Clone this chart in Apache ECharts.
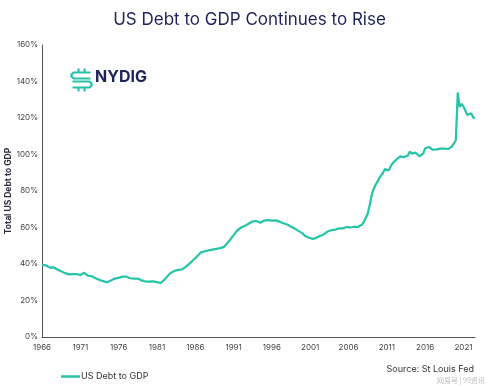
<!DOCTYPE html>
<html><head><meta charset="utf-8">
<script src="https://cdn.jsdelivr.net/npm/echarts@6/dist/echarts.min.js"></script>
<style>html,body{margin:0;padding:0;background:#fff}#c{width:499px;height:389px}</style>
</head><body><div id="c"></div>
<script>
var startYear = 1966;
var quarterValues = [
 39.5, 39.0, 39.3, 38.5,
 38.0, 38.8, 38.2, 37.5,
 37.0, 36.4, 36.0, 35.5,
 35.0, 34.6, 34.3, 34.8,
 34.4, 35.0, 34.5, 35.1,
 34.0, 34.6, 35.2, 34.4,
 33.6, 33.0, 33.3, 32.6,
 32.2, 31.8, 31.2, 31.0,
 30.6, 30.3, 30.0, 30.2,
 31.0, 31.6, 32.0, 32.3,
 32.4, 32.8, 33.1, 33.0,
 33.1, 32.6, 32.2, 32.6,
 32.0, 31.6, 32.0, 31.6,
 31.0, 30.6, 30.4, 30.2,
 30.3, 30.8, 30.5, 30.6,
 30.1, 29.9, 29.6, 30.5,
 31.5, 32.3, 33.8, 35.0,
 35.5, 36.2, 36.6, 36.8,
 36.7, 37.0, 37.6, 38.4,
 39.2, 40.2, 41.0, 42.2,
 43.2, 44.2, 45.3, 46.4,
 46.7, 47.0, 47.2, 47.5,
 47.6, 47.9, 48.0, 48.3,
 48.5, 48.7, 49.0, 49.4,
 50.6, 51.8, 53.0, 54.5,
 55.8, 57.2, 58.5, 59.4,
 60.0, 60.6, 61.0, 61.4,
 62.2, 62.8, 63.4, 63.6,
 63.5, 63.0, 62.6, 63.2,
 63.8, 64.2, 64.0, 63.6,
 63.8, 63.4, 63.9, 63.5,
 63.2, 62.6, 62.3, 62.0,
 61.6, 60.8, 60.4, 60.0,
 59.4, 58.7, 58.0, 57.5,
 56.8, 55.6, 55.0, 54.5,
 54.0, 53.8, 53.5, 54.2,
 54.6, 55.3, 55.8, 56.2,
 57.0, 57.8, 58.2, 58.5,
 58.6, 58.8, 59.3, 59.6,
 59.9, 59.5, 59.8, 60.3,
 60.6, 60.0, 60.5, 60.4,
 60.7, 60.3, 60.9, 61.6,
 63.0, 63.8, 67.5, 72.0,
 77.5, 81.0, 83.0, 85.0,
 87.0, 88.5, 90.0, 92.0,
 91.8, 91.2, 93.5, 95.2,
 96.0, 97.3, 98.0, 99.0,
 99.6, 98.6, 98.4, 99.5,
 101.7, 100.5, 100.2, 101.0,
 100.2, 99.0, 98.3, 100.6,
 103.4, 103.8, 104.1, 103.2,
 102.6, 102.2, 102.8, 102.5,
 103.2, 102.6, 103.3, 104.0,
 103.0, 102.8, 104.5, 105.5,
 107.8, 134.0, 126.0, 127.8,
 126.2, 124.0, 121.6, 120.6,
 122.6, 120.4, 119.8
];
var yTicks = [0, 20, 40, 60, 80, 100, 120, 140, 160];
var seriesName = 'US Debt to GDP';
var yAxisTitle = 'Total US Debt to GDP';

var categories = quarterValues.map(function (v, i) {
  return (startYear + Math.floor(i / 4)) + ' Q' + (i % 4 + 1);
});

var chart = echarts.init(document.getElementById('c'), null, {renderer: 'canvas'});
var font = 'Inter, "Noto Sans", sans-serif';
var teal = '#25c3a7';
var navy = '#1d2258';
chart.setOption({
  animation: false,
  textStyle: {fontFamily: font},
  title: {
    text: 'US Debt to GDP Continues to Rise',
    left: 'center', top: 6,
    textStyle: {fontSize: 17, fontWeight: 'normal', color: navy, fontFamily: font}
  },
  grid: {left: 42, right: 24, top: 45, bottom: 52, outerBoundsMode: 'none', containLabel: false},
  legend: {
    left: 56, top: 367,
    icon: 'rect', itemWidth: 19, itemHeight: 2.5, itemGap: 2,
    textStyle: {fontSize: 9, color: '#333', fontFamily: font, padding: [0, 0, 0, -4]},
    data: [seriesName]
  },
  xAxis: {
    type: 'category', boundaryGap: false, data: categories,
    axisLine: {lineStyle: {color: '#555', width: 1}},
    axisTick: {show: false},
    axisLabel: {
      interval: function (i) { return i % 20 === 0; },
      formatter: function (v) { return v.slice(0, 4); },
      fontSize: 8, color: '#444', margin: 7, fontFamily: font
    },
    splitLine: {show: false}
  },
  yAxis: {
    type: 'value', min: yTicks[0], max: yTicks[yTicks.length - 1], interval: 20,
    axisLine: {show: true, lineStyle: {color: '#555', width: 1}},
    axisTick: {show: false},
    axisLabel: {formatter: '{value}%', fontSize: 8, color: '#444', margin: 4, fontFamily: font},
    splitLine: {show: false}
  },
  series: [{
    name: seriesName, type: 'line', data: quarterValues,
    showSymbol: false, symbol: 'none',
    lineStyle: {color: teal, width: 2.2}, itemStyle: {color: teal}
  }],
  graphic: [
    {type: 'text', x: 8, y: 191, rotation: Math.PI / 2,
     style: {text: yAxisTitle, fontSize: 8.5, fontWeight: 'bold', fill: '#2a2a3a', fontFamily: font, align: 'center', verticalAlign: 'middle'}},
    {type: 'text', right: 25, top: 365, style: {text: 'Source: St Louis Fed', fontSize: 9, fill: '#333', fontFamily: font}},
    {type: 'text', left: 437, top: 377, style: {text: '网易号 | 99资讯', fontSize: 7, fill: '#bbb', fontFamily: '"Noto Sans CJK SC"'}},
    {type: 'text', left: 95, top: 69, style: {text: 'NYDIG', fontSize: 16, fontWeight: 'bold', fill: navy, fontFamily: font}},
    {type: 'group', left: 69, top: 66, children: [
      {type: 'line', shape: {x1: 8, y1: 0, x2: 8, y2: 4}, style: {stroke: teal, lineWidth: 2.2}},
      {type: 'line', shape: {x1: 14, y1: 0, x2: 14, y2: 4}, style: {stroke: teal, lineWidth: 2.2}},
      {type: 'polyline', shape: {points: [[20, 4], [3, 4], [1, 6], [1, 8], [3, 10], [20, 10]]}, style: {stroke: teal, lineWidth: 2.2, fill: null}},
      {type: 'polyline', shape: {points: [[2, 13], [19, 13], [21, 15], [21, 17], [19, 19], [2, 19]]}, style: {stroke: teal, lineWidth: 2.2, fill: null}},
      {type: 'line', shape: {x1: 8, y1: 19, x2: 8, y2: 23}, style: {stroke: teal, lineWidth: 2.2}},
      {type: 'line', shape: {x1: 14, y1: 19, x2: 14, y2: 23}, style: {stroke: teal, lineWidth: 2.2}}
    ]}
  ]
});
</script>
</body></html>
